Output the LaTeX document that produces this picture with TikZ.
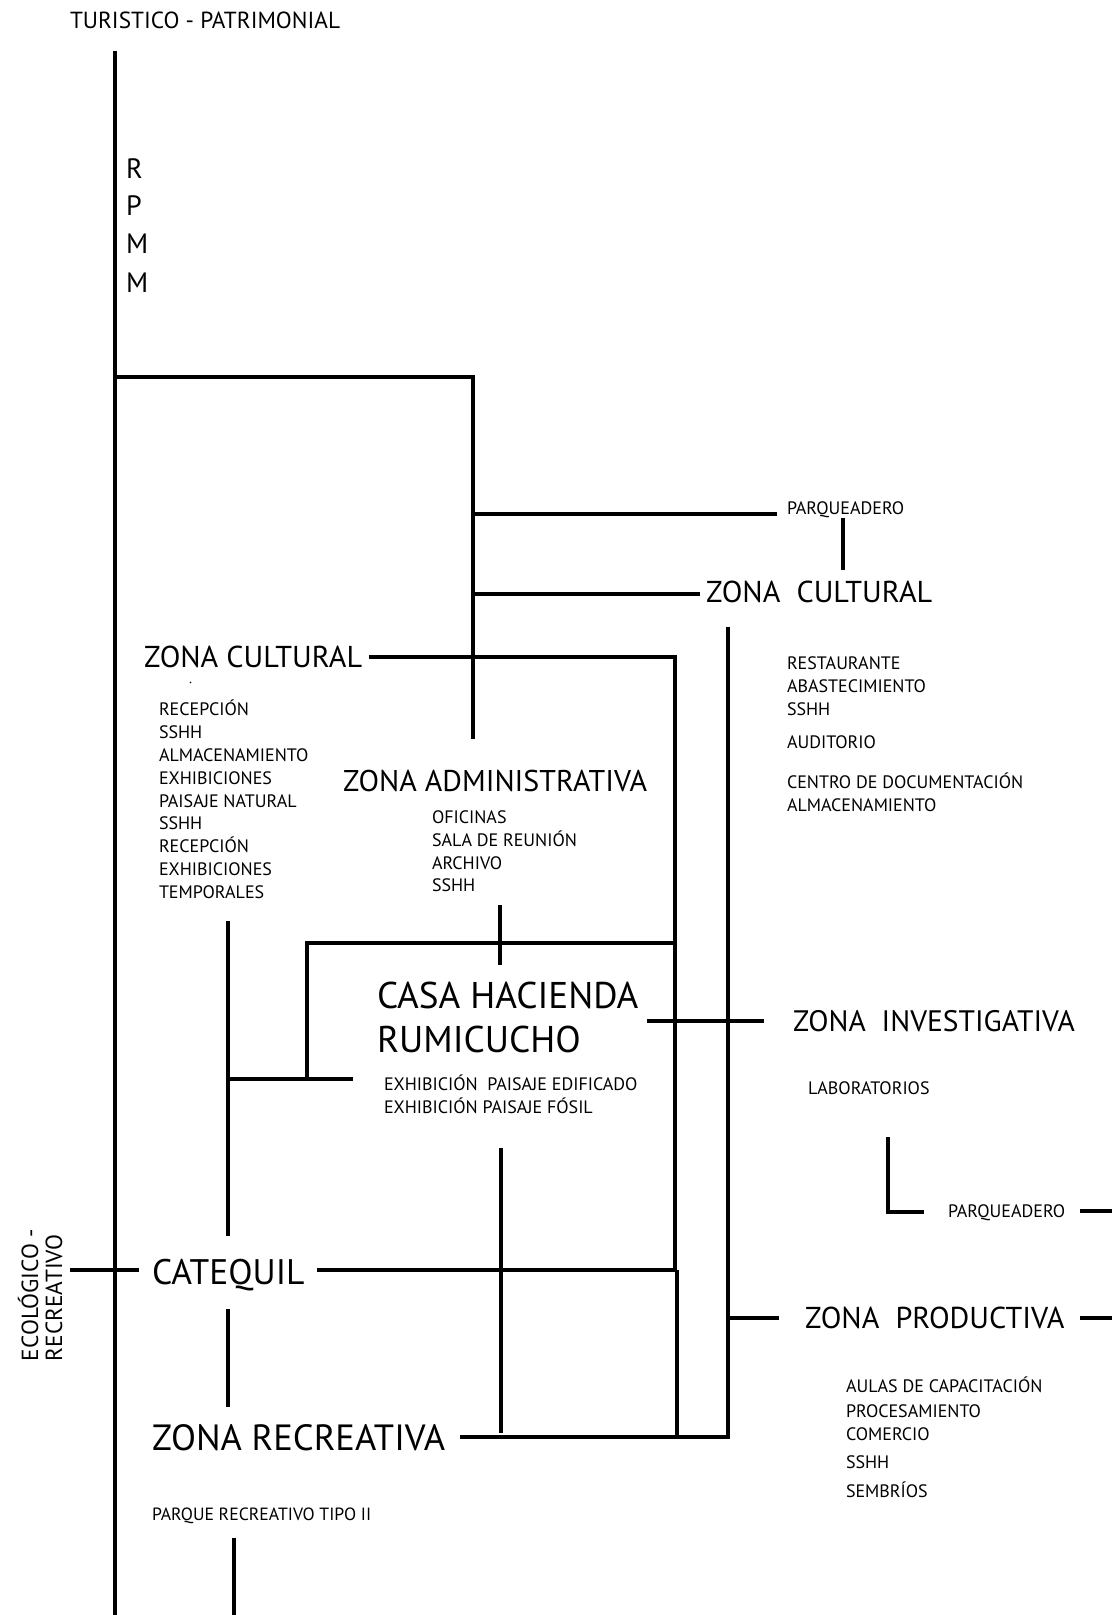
\documentclass[tikz,border=0pt]{standalone}
\usepackage{fontspec}
\setmainfont{PT Sans}
\tikzset{
  ln/.style={line width=3.2pt},
  txt/.style={inner sep=0pt, outer sep=0pt, anchor=base west},
  small/.style={txt, font=\fontsize{18}{18}\selectfont},
  mid/.style={txt, font=\fontsize{23.3}{24}\selectfont},
  head/.style={txt, font=\fontsize{30.2}{31}\selectfont},
  huge/.style={txt, font=\fontsize{37.2}{38}\selectfont},
}
\begin{document}
\begin{tikzpicture}[x=1pt,y=-1pt]
\useasboundingbox[fill=white] (0,0) rectangle (1112,1615);

% ---------- texts ----------
\node[mid] (tur) at (70,28.3) {TURISTICO - PATRIMONIAL};
\node[txt, font=\fontsize{28}{28}\selectfont] (r1) at (126,178) {R};
\node[txt, font=\fontsize{28}{28}\selectfont] (r2) at (126,215) {P};
\node[txt, font=\fontsize{28}{28}\selectfont] (r3) at (126,253) {M};
\node[txt, font=\fontsize{28}{28}\selectfont] (r4) at (126,292) {M};

\node[small] (park1) at (787,514) {PARQUEADERO};
\node[head] (zcr) at (706,602.5) {ZONA\ \ CULTURAL};
\foreach \t/\y [count=\i] in {RESTAURANTE/663, ABASTECIMIENTO/686.5, SSHH/709.5, AUDITORIO/742, CENTRO DE DOCUMENTACIÓN/782.5, ALMACENAMIENTO/805}
  \node[small] (rl\i) at (787,\y+6.3) {\t};

\node[head] (zcl) at (144,667) {ZONA CULTURAL};
\fill (190.5,682.5) circle (0.8pt) coordinate (dot);
\foreach \t/\y [count=\i] in {RECEPCIÓN/709, SSHH/732, ALMACENAMIENTO/755, EXHIBICIONES/778, PAISAJE NATURAL/801, SSHH/823.5, RECEPCIÓN/846, EXHIBICIONES/869, TEMPORALES/892}
  \node[small] (ll\i) at (159,\y+6.3) {\t};

\node[txt, font=\fontsize{30}{31}\selectfont] (zad) at (343,791) {ZONA ADMINISTRATIVA};
\foreach \t/\y [count=\i] in {OFICINAS/817.5, SALA DE REUNIÓN/840, ARCHIVO/863, SSHH/885.5}
  \node[small] (cl\i) at (432,\y+6.3) {\t};

\node[huge] (casa1) at (377,1008.5) {CASA HACIENDA};
\node[huge] (casa2) at (377,1052.5) {RUMICUCHO};
\node[small] (ex1) at (384,1090.3) {EXHIBICIÓN\ \ PAISAJE EDIFICADO};
\node[small] (ex2) at (384,1113.3) {EXHIBICIÓN PAISAJE FÓSIL};

\node[txt, font=\fontsize{29.6}{30}\selectfont] (zin) at (793,1031) {ZONA\ \ INVESTIGATIVA};
\node[small] (lab) at (808,1094.8) {LABORATORIOS};
\node[small] (park2) at (948,1217.3) {PARQUEADERO};

\node[head] (zpr) at (805,1328.5) {ZONA\ \ PRODUCTIVA};
\foreach \t/\y [count=\i] in {AULAS DE CAPACITACIÓN/1386.5, PROCESAMIENTO/1411, COMERCIO/1434.5, SSHH/1462.5, SEMBRÍOS/1491}
  \node[small] (pl\i) at (846,\y+6.3) {\t};

\node[txt, font=\fontsize{35.5}{36}\selectfont] (cat) at (152,1284) {CATEQUIL};
\node[txt, font=\fontsize{36.5}{37}\selectfont] (zre) at (152,1450) {ZONA RECREATIVA};
\node[txt, font=\fontsize{17.7}{18}\selectfont] (parque) at (152,1520) {PARQUE RECREATIVO TIPO II};

\node[mid, rotate=90] (eco1) at (38,1361) {ECOLÓGICO -};
\node[mid, rotate=90] (eco2) at (62,1361) {RECREATIVO};

% ---------- junction coordinates ----------
\coordinate (mTop) at (115,51);
\coordinate (mBot) at (115,1615);
\coordinate (b1) at (115,377);
\coordinate (b2) at (473,377);
\coordinate (b3) at (473,739);
\coordinate (p1a) at (473,514);
\coordinate (p1b) at (777,514);
\coordinate (pv1) at (843,518);
\coordinate (pv2) at (843,570);
\coordinate (c1a) at (473,594);
\coordinate (c1b) at (700,594);
\coordinate (v7a) at (728,627);
\coordinate (v7b) at (728,1437);
\coordinate (rb) at (460,1437);
\coordinate (cl1) at (369,657);
\coordinate (cl2) at (675,657);
\coordinate (cl3) at (675,1270);
\coordinate (cl4) at (677,1270);
\coordinate (cl5) at (677,1437);
\coordinate (av1) at (500,905);
\coordinate (av2) at (500,965);
\coordinate (h1) at (307,1079);
\coordinate (h2) at (307,943);
\coordinate (h3) at (675,943);
\coordinate (e1) at (228,1079);
\coordinate (e2) at (353,1079);
\coordinate (cv1) at (228,921);
\coordinate (cv2) at (228,1236);
\coordinate (cv3) at (228,1309);
\coordinate (cv4) at (228,1407);
\coordinate (in1) at (647,1021);
\coordinate (in2) at (764,1021);
\coordinate (L1) at (888,1137);
\coordinate (L2) at (888,1212);
\coordinate (L3) at (924,1212);
\coordinate (pk1) at (1080,1211);
\coordinate (pk2) at (1112,1211);
\coordinate (pr1) at (728,1318);
\coordinate (pr2) at (779,1318);
\coordinate (pr3) at (1080,1318);
\coordinate (pr4) at (1112,1318);
\coordinate (ec1) at (70,1270);
\coordinate (ec2) at (139,1270);
\coordinate (ct1) at (317,1270);
\coordinate (tk1) at (473,1270);
\coordinate (tk2) at (501,1270);
\coordinate (rv1) at (501,1148);
\coordinate (rv2) at (501,1433);
\coordinate (bt1) at (234,1538);
\coordinate (bt2) at (234,1615);

% ---------- lines ----------
\draw[ln] (mTop) -- (mBot);
\draw[ln] (b1) -- (b2) -- (b3);
\draw[ln] (p1a) -- (p1b);
\draw[ln] (pv1) -- (pv2);
\draw[ln] (c1a) -- (c1b);
\draw[ln] (v7a) -- (v7b) -- (rb);
\draw[ln] (cl1) -- (cl2) -- (cl3);
\draw[line width=3.5pt] (cl4) -- (cl5);
\draw[ln] (av1) -- (av2);
\draw[ln] (h1) -- (h2) -- (h3);
\draw[ln] (e1) -- (e2);
\draw[ln] (cv1) -- (cv2);
\draw[ln] (cv3) -- (cv4);
\draw[ln] (in1) -- (in2);
\draw[ln] (L1) -- (L2) -- (L3);
\draw[ln] (pk1) -- (pk2);
\draw[ln] (pr1) -- (pr2);
\draw[ln] (pr3) -- (pr4);
\draw[ln] (ec1) -- (ec2);
\draw[ln] (ct1) -- (cl4);
\draw[line width=4pt] (tk1) -- (tk2);
\draw[ln] (rv1) -- (rv2);
\draw[ln] (bt1) -- (bt2);
\end{tikzpicture}
\end{document}
